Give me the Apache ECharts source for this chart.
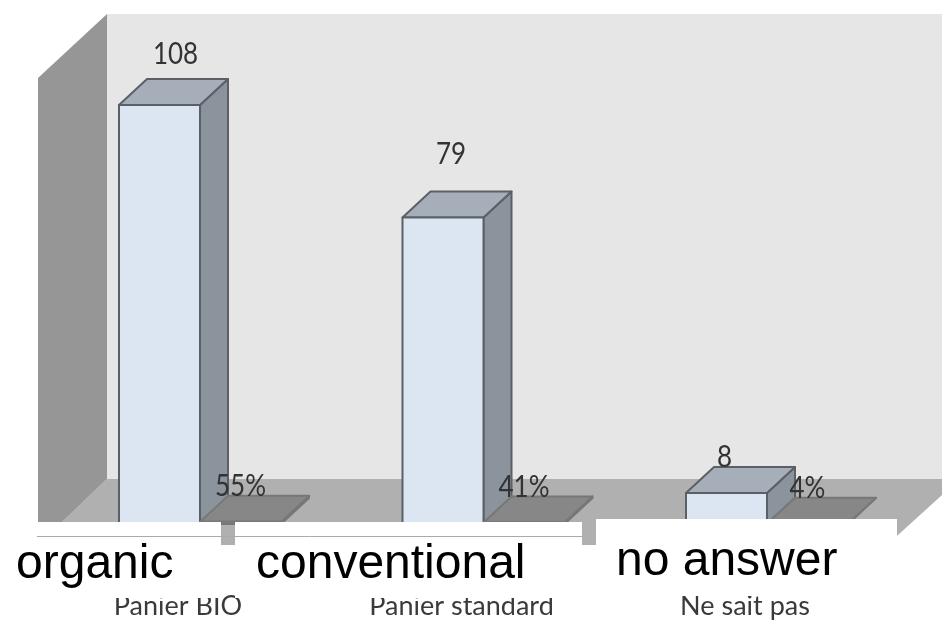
<!DOCTYPE html>
<html>
<head>
<meta charset="utf-8">
<title>Panier BIO</title>
<script src="https://cdn.jsdelivr.net/npm/echarts@6/dist/echarts.min.js"></script>
<style>html,body{margin:0;padding:0;background:#fff}#chart{width:942px;height:620px}</style>
</head>
<body>
<div id="chart"></div>
<script>
const categories = ['Panier BIO', 'Panier standard', 'Ne sait pas'];
const counts = [108, 79, 8];
const shares = [0.55, 0.41, 0.04];
const overlayNames = ['organic', 'conventional', 'no answer'];

// Count labels are hand-placed over the boxes: rise above the back edge and sideways shift.
const countLift = [25, 38, 10];
const countShift = [16, 8, -2];
const depthX = 28;
const depthY = 26;
const barShare = 81 / 283.5;

// A text element stretched vertically, as the narrow chart lettering is drawn.
function tallText(text, x, y) {
  return {
    type: 'text', x: x, y: y, scaleY: 1.22, z2: 20,
    style: { text: text, fill: '#333', font: '26px Lato', align: 'center', verticalAlign: 'middle' }
  };
}

// Pseudo-3D box: front face, top and right side, placed through the axis scales.
function box(api, side, faces, stroke) {
  const i = api.value(0);
  const top = api.coord([i, api.value(1)]);
  const base = api.coord([i, 0]);
  const w = api.size([1, 0])[0] * barShare;
  const l = top[0] + (side < 0 ? -w : 0);
  const r = l + w;
  const style = (fill) => ({ fill: fill, stroke: stroke, lineWidth: 2, lineJoin: 'round' });
  return {
    l: l, r: r, top: top[1],
    shapes: [
      { type: 'polygon', shape: { points: [[r, top[1]], [r + depthX, top[1] - depthY], [r + depthX, base[1] - depthY], [r, base[1]]] }, style: style(faces.side) },
      { type: 'polygon', shape: { points: [[l, top[1]], [l + depthX, top[1] - depthY], [r + depthX, top[1] - depthY], [r, top[1]]] }, style: style(faces.top) },
      { type: 'rect', shape: { x: l, y: top[1], width: w, height: base[1] - top[1] }, style: style(faces.front) }
    ]
  };
}

function renderCount(params, api) {
  const b = box(api, -1, { front: '#dce6f2', top: '#a6aeb9', side: '#8b939c' }, '#5b6066');
  const i = api.value(0);
  const cx = (b.l + b.r) / 2 + countShift[i];
  return {
    type: 'group',
    children: b.shapes.concat(tallText(String(api.value(1)), cx, b.top - depthY - countLift[i]))
  };
}

function renderShare(params, api) {
  const b = box(api, 1, { front: '#878787', top: '#878787', side: '#878787' }, '#777');
  const label = Math.round(api.value(1) * 100) + '%';
  return {
    type: 'group',
    children: b.shapes.concat(tallText(label, (b.l + b.r) / 2, b.top - depthY - 10))
  };
}

const wall = (points, fill, z) => ({ type: 'polygon', z: z, shape: { points: points }, style: { fill: fill } });
const mask = (x, y, w, h) => ({ type: 'rect', z: 5, shape: { x: x, y: y, width: w, height: h }, style: { fill: '#fff' } });
const note = (text, x, y) => ({
  type: 'text', z: 6, x: x, y: y,
  style: { text: text, fill: '#000', font: '48px "Liberation Sans"', align: 'left', verticalAlign: 'top' }
});

const chart = echarts.init(document.getElementById('chart'), null, { renderer: 'canvas' });
chart.setOption({
  animation: false,
  backgroundColor: '#fff',
  grid: { left: 58.25, right: 33.25, top: 105, bottom: 95 },
  xAxis: {
    type: 'category',
    data: categories,
    axisLine: { show: false },
    axisTick: { show: false },
    z: 1,
    axisLabel: {
      interval: 0, margin: 69, fontFamily: 'Lato', fontSize: 27, color: '#3a3a3a',
      padding: [0, 44, 0, 0]
    }
  },
  yAxis: { type: 'value', min: 0, max: 108, show: false },
  graphic: {
    elements: [
      wall([[107, 14], [942, 14], [942, 479], [107, 479]], '#e6e6e6', -3),
      wall([[107, 479], [942, 479], [942, 495], [887, 545], [38, 545]], '#b0b0b0', -2),
      wall([[107, 14], [38, 78], [38, 545], [107, 479]], '#969696', -1),
      mask(37, 522, 184, 76),
      mask(235, 522, 347, 76),
      mask(596, 519, 301, 77),
      { type: 'line', z: 5, shape: { x1: 37, y1: 536.5, x2: 582, y2: 536.5 }, style: { stroke: '#aaa', lineWidth: 1 } },
      note(overlayNames[0], 16, 541),
      note(overlayNames[1], 256, 541),
      note(overlayNames[2], 616, 538)
    ]
  },
  series: [
    {
      type: 'custom', z: 2, renderItem: renderCount, clip: false,
      encode: { x: 0, y: 1 },
      data: counts.map((v, i) => [i, v])
    },
    {
      type: 'custom', z: 3, renderItem: renderShare, clip: false,
      encode: { x: 0, y: 1 },
      data: shares.map((v, i) => [i, v])
    }
  ]
});
</script>
</body>
</html>
